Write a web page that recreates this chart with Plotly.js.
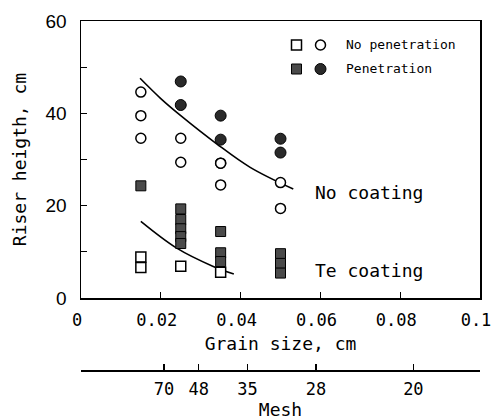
<!DOCTYPE html>
<html>
<head>
<meta charset="utf-8">
<script src="https://cdn.plot.ly/plotly-3.0.1.min.js"></script>
<style>html,body{margin:0;padding:0;background:#fff;}#chart{width:492px;height:420px;}</style>
</head>
<body>
<div id="chart"></div>
<script>
// ---- data ----
// No coating, no penetration (open circles)
const ncOpenX = [0.015, 0.015, 0.015, 0.025, 0.025, 0.035, 0.035, 0.035, 0.05, 0.05];
const ncOpenY = [44.6, 39.5, 34.6, 34.6, 29.4, 29.2, 24.5, 29.2, 25.0, 19.4];
// No coating, penetration (filled circles)
const ncPenX = [0.025, 0.025, 0.035, 0.035, 0.05, 0.05];
const ncPenY = [46.9, 41.8, 39.5, 34.3, 34.5, 31.5];
// Te coating, no penetration (open squares)
const teOpenX = [0.015, 0.015, 0.025, 0.035];
const teOpenY = [8.9, 6.6, 6.9, 5.6];
// Te coating, penetration (filled squares)
const tePenX = [0.015, 0.025, 0.025, 0.025, 0.025, 0.025, 0.035, 0.035, 0.035, 0.05, 0.05, 0.05];
const tePenY = [24.3, 19.3, 17.0, 15.0, 13.3, 11.8, 14.4, 9.8, 7.9, 9.6, 7.5, 5.4];
// Boundary curves (hand-drawn in the original)
const ncCurveX = [0.0148, 0.020, 0.025, 0.034, 0.0424, 0.0532];
const ncCurveY = [47.6, 43.2, 39.5, 33.4, 28.3, 23.6];
const teCurveX = [0.0150, 0.0240, 0.0330, 0.0383];
const teCurveY = [16.6, 10.8, 6.9, 5.2];
// Axis ticks
const yTickVals = [0, 10, 20, 30, 40, 50, 60];
const yTickText = ['0', '', '20', '', '40', '', '60'];
const xTickVals = [0, 0.02, 0.04, 0.06, 0.08, 0.1];
const xTickText = ['0', '0.02', '0.04', '0.06', '0.08', '0.1'];
const meshCm = [0.0208, 0.0295, 0.0417, 0.0589, 0.0833];
const meshLabels = ['70', '48', '35', '28', '20'];

const mono = 'DejaVu Sans Mono, monospace';
const sans = 'Liberation Sans, Arial, sans-serif';

const traces = [
  {x: ncCurveX, y: ncCurveY, mode: 'lines', line: {color: '#000', width: 1.6, shape: 'spline'}, hoverinfo: 'skip'},
  {x: teCurveX, y: teCurveY, mode: 'lines', line: {color: '#000', width: 1.6, shape: 'spline'}, hoverinfo: 'skip'},
  {x: ncOpenX, y: ncOpenY, mode: 'markers', name: 'No penetration',
   marker: {symbol: 'circle', size: 10, color: '#fff', line: {color: '#000', width: 1.5}}},
  {x: ncPenX, y: ncPenY, mode: 'markers', name: 'Penetration',
   marker: {symbol: 'circle', size: 11, color: '#2a2a2a', line: {color: '#000', width: 1}}},
  {x: teOpenX, y: teOpenY, mode: 'markers', name: 'No penetration',
   marker: {symbol: 'square', size: 10, color: '#fff', line: {color: '#000', width: 1.5}}},
  {x: tePenX, y: tePenY, mode: 'markers', name: 'Penetration',
   marker: {symbol: 'square', size: 10, color: '#4a4a4a', line: {color: '#000', width: 1}}},
  {x: [], y: [], xaxis: 'x2', mode: 'markers', hoverinfo: 'skip'}
];

// helpers for paper coordinates of the inline legend
const L = 81, R = 480, T = 21, B = 370;
const px = v => (v - L) / (R - L);
const py = v => (B - v) / (B - T);
function box(cx, cy, w, h) { return {x0: px(cx - w/2), x1: px(cx + w/2), y0: py(cy + h/2), y1: py(cy - h/2)}; }

const shapes = [
  Object.assign({type: 'rect', xref: 'paper', yref: 'paper', line: {color: '#000', width: 1.5}, fillcolor: '#fff'}, box(296.5, 45, 10, 10)),
  Object.assign({type: 'circle', xref: 'paper', yref: 'paper', line: {color: '#000', width: 1.5}, fillcolor: '#fff'}, box(320.5, 45, 10, 10)),
  Object.assign({type: 'rect', xref: 'paper', yref: 'paper', line: {color: '#000', width: 1}, fillcolor: '#4a4a4a'}, box(296.5, 69, 10, 10)),
  Object.assign({type: 'circle', xref: 'paper', yref: 'paper', line: {color: '#000', width: 1}, fillcolor: '#2a2a2a'}, box(320.5, 69, 11, 11))
];

const annotations = [
  {xref: 'paper', yref: 'paper', x: px(344), y: py(45), xanchor: 'left', yanchor: 'middle', showarrow: false,
   text: 'No penetration', font: {family: mono, size: 13, color: '#000'}},
  {xref: 'paper', yref: 'paper', x: px(344), y: py(69), xanchor: 'left', yanchor: 'middle', showarrow: false,
   text: 'Penetration', font: {family: mono, size: 13, color: '#000'}},
  {xref: 'paper', yref: 'paper', x: px(313), y: py(192), xanchor: 'left', yanchor: 'middle', showarrow: false,
   text: 'No coating', font: {family: mono, size: 18, color: '#000'}},
  {xref: 'paper', yref: 'paper', x: px(313), y: py(270), xanchor: 'left', yanchor: 'middle', showarrow: false,
   text: 'Te coating', font: {family: mono, size: 18, color: '#000'}}
];

const layout = {
  width: 492, height: 420,
  margin: {l: L, r: 492 - R, t: T, b: 420 - B, pad: 0},
  paper_bgcolor: '#fff', plot_bgcolor: '#fff',
  showlegend: false,
  xaxis: {
    range: [0, 0.1], tickvals: xTickVals, ticktext: xTickText,
    showgrid: false, zeroline: false, showline: true, mirror: true, linecolor: '#000', linewidth: 1.5,
    ticks: 'inside', ticklen: 6, tickwidth: 1.2, tickcolor: '#000',
    ticklabelstandoff: 6, ticklabelshift: -4, ticklabeloverflow: 'allow',
    tickfont: {family: mono, size: 17, color: '#000'},
    title: {text: 'Grain size, cm', font: {family: mono, size: 18, color: '#000'}, standoff: 8},
    anchor: 'y'
  },
  xaxis2: {
    overlaying: 'x', anchor: 'free', position: 0, side: 'bottom',
    range: [0, 0.1], tickvals: meshCm, ticktext: meshLabels,
    showgrid: false, zeroline: false, showline: true, linecolor: '#000', linewidth: 1.5,
    ticks: 'inside', ticklen: 6, tickwidth: 1.2, tickcolor: '#000',
    ticklabelstandoff: 3,
    tickfont: {family: mono, size: 17, color: '#000'},
    title: {text: 'Mesh', font: {family: mono, size: 18, color: '#000'}, standoff: 8}
  },
  yaxis: {
    domain: [(B - 298) / (B - T), 1],
    range: [0, 60], tickvals: yTickVals, ticktext: yTickText,
    showgrid: false, zeroline: false, showline: true, mirror: true, linecolor: '#000', linewidth: 1.5,
    ticks: 'inside', ticklen: 6, tickwidth: 1.2, tickcolor: '#000',
    ticklabelstandoff: 9,
    tickfont: {family: sans, size: 19, color: '#000'},
    title: {text: 'Riser heigth, cm', font: {family: mono, size: 18, color: '#000'}, standoff: 14}
  },
  shapes: shapes,
  annotations: annotations
};

Plotly.newPlot('chart', traces, layout, {displayModeBar: false, staticPlot: true});
</script>
</body>
</html>
